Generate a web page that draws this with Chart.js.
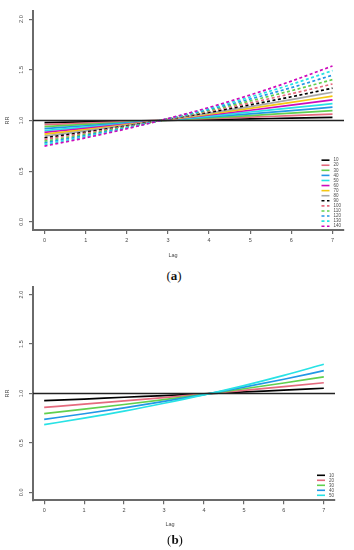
<!DOCTYPE html>
<html>
<head>
<meta charset="utf-8">
<script src="https://cdn.jsdelivr.net/npm/chart.js@4.4.0/dist/chart.umd.min.js"></script>
<style>
  html, body { margin: 0; padding: 0; background: #fff; }
  body { width: 354px; height: 550px; position: relative; overflow: hidden; }
  canvas { position: absolute; left: 0; }
  .tag {
    position: absolute;
    font-family: "Liberation Serif", "Times New Roman", serif;
    font-size: 13px;
    color: #111;
    transform: translateX(-50%);
    line-height: 1;
  }
</style>
</head>
<body>
<canvas id="chartA" width="354" height="264" style="top:0"></canvas>
<div class="tag" style="left:174px;top:269px">(<b>a</b>)</div>
<canvas id="chartB" width="354" height="262" style="top:275px"></canvas>
<div class="tag" style="left:175px;top:533px">(<b>b</b>)</div>

<script>
// lag values on the x axis
const lags = [0, 1, 2, 3, 4, 5, 6, 7];
const xTicks = [0, 1, 2, 3, 4, 5, 6, 7];
const yTicks = [0, 0.5, 1, 1.5, 2];
const xRange = [-0.28, 7.28];
const yRange = [-0.08, 2.08];
const refRR = 1;

// panel (a): RR by lag for each level
const labelsA = ["10", "20", "30", "40", "50", "60", "70", "80", "90", "100", "110", "120", "130", "140"];
const rrA10  = [0.979, 0.987, 0.994, 1.001, 1.009, 1.016, 1.024, 1.031];
const rrA20  = [0.959, 0.974, 0.988, 1.003, 1.018, 1.033, 1.048, 1.063];
const rrA30  = [0.940, 0.961, 0.982, 1.004, 1.026, 1.049, 1.073, 1.097];
const rrA40  = [0.920, 0.948, 0.976, 1.005, 1.035, 1.066, 1.098, 1.131];
const rrA50  = [0.901, 0.935, 0.970, 1.007, 1.044, 1.084, 1.124, 1.166];
const rrA60  = [0.883, 0.923, 0.964, 1.008, 1.054, 1.101, 1.151, 1.203];
const rrA70  = [0.865, 0.910, 0.959, 1.009, 1.063, 1.119, 1.178, 1.240];
const rrA80  = [0.847, 0.898, 0.953, 1.011, 1.072, 1.137, 1.206, 1.279];
const rrA90  = [0.830, 0.886, 0.947, 1.012, 1.081, 1.155, 1.234, 1.319];
const rrA100 = [0.813, 0.875, 0.941, 1.013, 1.091, 1.174, 1.264, 1.360];
const rrA110 = [0.796, 0.863, 0.936, 1.015, 1.100, 1.193, 1.294, 1.403];
const rrA120 = [0.780, 0.852, 0.930, 1.016, 1.110, 1.212, 1.324, 1.447];
const rrA130 = [0.764, 0.840, 0.925, 1.017, 1.120, 1.232, 1.356, 1.492];
const rrA140 = [0.748, 0.829, 0.919, 1.019, 1.129, 1.252, 1.388, 1.538];
const seriesA = [rrA10, rrA20, rrA30, rrA40, rrA50, rrA60, rrA70, rrA80,
                 rrA90, rrA100, rrA110, rrA120, rrA130, rrA140];

// panel (b)
const labelsB = ["10", "20", "30", "40", "50"];
const rrB10 = [0.927, 0.944, 0.962, 0.979, 0.997, 1.016, 1.034, 1.053];
const rrB20 = [0.860, 0.892, 0.925, 0.959, 0.995, 1.031, 1.070, 1.109];
const rrB30 = [0.797, 0.842, 0.889, 0.939, 0.992, 1.048, 1.106, 1.168];
const rrB40 = [0.739, 0.795, 0.855, 0.920, 0.989, 1.064, 1.144, 1.231];
const rrB50 = [0.685, 0.751, 0.822, 0.901, 0.986, 1.080, 1.183, 1.296];
const seriesB = [rrB10, rrB20, rrB30, rrB40, rrB50];

// R default palette, dashed after the first 8
const rColors = ["#000000", "#E56A7E", "#61D04F", "#2297E6", "#28E2E5", "#CD0BBC", "#F5C710", "#A8A8A8"];

const textColor = "#4a4a4a";
const axisColor = "#6a6a6a";

// legend in the bottom right corner, R style
const rLegend = {
  id: "rLegend",
  afterDatasetsDraw(chart, args, opts) {
    const { ctx, chartArea } = chart;
    const sets = chart.data.datasets.filter((d) => d.inLegend);
    ctx.save();
    ctx.font = '4.5px "Liberation Sans"';
    const maxW = Math.max(...sets.map((d) => ctx.measureText(d.label).width));
    const textX = chartArea.right - opts.right - maxW;
    sets.forEach((d, i) => {
      const y = chartArea.bottom - opts.bottom - (sets.length - 1 - i) * opts.rowGap;
      ctx.strokeStyle = d.borderColor;
      ctx.lineWidth = 1.6;
      ctx.setLineDash(d.borderDash || []);
      ctx.beginPath();
      ctx.moveTo(textX - 12, y);
      ctx.lineTo(textX - 4, y);
      ctx.stroke();
      ctx.fillStyle = textColor;
      ctx.textBaseline = "middle";
      ctx.textAlign = "left";
      ctx.fillText(d.label, textX, y);
    });
    ctx.restore();
  },
};

// x axis title, not centered on the plot in the original
const xTitle = {
  id: "xTitle",
  afterDraw(chart, args, opts) {
    const ctx = chart.ctx;
    ctx.save();
    ctx.font = '5.5px "Liberation Sans"';
    ctx.fillStyle = textColor;
    ctx.textAlign = "center";
    ctx.textBaseline = "middle";
    ctx.fillText("Lag", opts.x, opts.y);
    ctx.restore();
  },
};

function buildDatasets(labels, series) {
  const sets = series.map((vals, i) => ({
    label: labels[i],
    data: lags.map((l, j) => ({ x: l, y: vals[j] })),
    borderColor: rColors[i % 8],
    borderWidth: 1.7,
    borderDash: i >= 8 ? [3, 2.5] : [],
    pointRadius: 0,
    cubicInterpolationMode: "monotone",
    inLegend: true,
    order: -i,
  }));
  sets.push({
    label: "ref",
    data: [{ x: xRange[0], y: refRR }, { x: xRange[1], y: refRR }],
    borderColor: "#222",
    borderWidth: 1.6,
    pointRadius: 0,
    inLegend: false,
    order: -100,
  });
  return sets;
}

function makePanel(id, labels, series, lay) {
  return new Chart(document.getElementById(id), {
    type: "line",
    data: { datasets: buildDatasets(labels, series) },
    options: {
      responsive: false,
      animation: false,
      events: [],
      layout: { padding: { top: lay.top, right: lay.right, left: 0, bottom: 0 } },
      plugins: {
        legend: { display: false },
        tooltip: { enabled: false },
        rLegend: lay.legend,
        xTitle: lay.xTitle,
      },
      scales: {
        x: {
          type: "linear",
          min: xRange[0],
          max: xRange[1],
          afterBuildTicks: (s) => { s.ticks = xTicks.map((v) => ({ value: v })); },
          afterFit: (s) => { s.height = lay.xHeight; },
          ticks: {
            font: { family: "Liberation Sans", size: 5.5 },
            color: textColor,
            padding: lay.xPad,
            maxRotation: 0,
            callback: (v) => String(v),
          },
          grid: { drawOnChartArea: false, drawTicks: true, tickLength: 4, color: axisColor, lineWidth: 1.2 },
          border: { display: true, color: axisColor, width: 2 },
        },
        y: {
          type: "linear",
          min: yRange[0],
          max: yRange[1],
          afterBuildTicks: (s) => { s.ticks = yTicks.map((v) => ({ value: v })); },
          afterFit: (s) => { s.width = 33; },
          ticks: {
            font: { family: "Liberation Sans", size: 5.5 },
            color: textColor,
            padding: 4,
            minRotation: 90,
            maxRotation: 90,
            crossAlign: "center",
            callback: (v) => v.toFixed(1),
          },
          title: {
            display: true,
            text: "RR",
            color: textColor,
            font: { family: "Liberation Sans", size: 5.5 },
            padding: { top: 4.5, bottom: 0 },
          },
          grid: { drawOnChartArea: false, drawTicks: true, tickLength: 4, color: axisColor, lineWidth: 1.2 },
          border: { display: true, color: axisColor, width: 2 },
        },
      },
    },
    plugins: [rLegend, xTitle],
  });
}

makePanel("chartA", labelsA, seriesA, {
  top: 11, right: 10, xHeight: 34, xPad: 3.5,
  legend: { right: 3, bottom: 3.8, rowGap: 5.08 },
  xTitle: { x: 173, y: 255 },
});

makePanel("chartB", labelsB, seriesB, {
  top: 11.7, right: 19, xHeight: 36.7, xPad: 2.5,
  legend: { right: 1, bottom: 5, rowGap: 5 },
  xTitle: { x: 170, y: 249 },
});
</script>
</body>
</html>
